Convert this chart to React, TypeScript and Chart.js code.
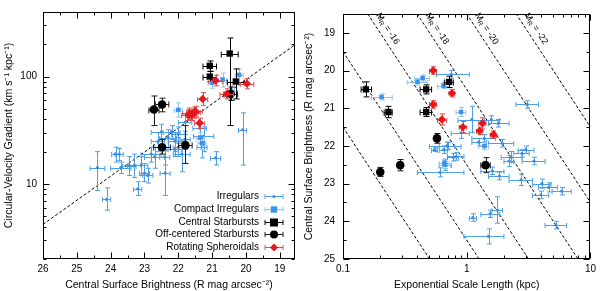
import React, { useEffect, useRef } from 'react';
import { Chart, registerables } from 'chart.js';
Chart.register(...registerables);

// ---------- LEFT PANEL DATA: [mag, magErr, velGrad, velLo, velHi] ----------
const irrLeft: number[][] = [
  [24.39, 0.22, 14.2, 8.7, 20], [24.12, 0.12, 7.2, 5.7, 9.2], [23.85, 0.12, 19, 16, 22],
  [23.75, 0.12, 19, 16.5, 21.5], [23.7, 0.3, 14.2, 12.5, 16], [23.3, 0.2, 15.0, 11.5, 19],
  [23.2, 0.12, 9.0, 7.8, 10.5], [23.1, 0.2, 15, 12, 18], [23.0, 0.15, 12.6, 10.5, 15.5],
  [22.9, 0.15, 12, 10.2, 14], [22.7, 0.3, 17.9, 14, 22], [22.6, 0.2, 24.9, 20, 30],
  [22.5, 0.3, 30.6, 26, 36], [22.39, 0.15, 12.6, 7.8, 20.3], [22.4, 0.15, 17.9, 15, 21],
  [22.3, 0.25, 27, 22, 32], [22.2, 0.25, 30.6, 26, 35], [22.1, 0.2, 25, 20, 30],
  [22.0, 0.2, 29, 24, 34], [22.1, 0.2, 21, 18, 25], [21.8, 0.2, 37.6, 29, 45],
  [21.9, 0.25, 19, 13, 25], [21.37, 0.2, 33, 28, 38], [21.3, 0.15, 22, 17.5, 27],
  [21.25, 0.3, 27.7, 20, 34], [20.9, 0.15, 17.5, 15, 20], [20.1, 0.12, 32, 15, 46],
  [21.8, 0.15, 26, 21, 31], [22.0, 0.15, 22, 18, 27], [23.45, 0.2, 14.8, 12, 18],
  [22.8, 0.3, 19, 16, 22],
];
const cmpLeft: number[][] = [
  [22.0, 0.12, 49, 42, 57], [20.69, 0.12, 94, 80, 108], [20.2, 0.12, 104, 88, 118],
  [21.0, 0.12, 88, 78, 98], [21.3, 0.12, 24, 21, 27], [21.35, 0.12, 27, 24, 30],
  [20.4, 0.15, 72, 62, 82],
];
const cenLeft: number[][] = [
  [20.48, 0.25, 164, 35, 229], [21.07, 0.2, 126, 112, 140], [21.07, 0.2, 100, 90, 112],
  [20.3, 0.25, 90, 62, 118],
];
const offLeft: number[][] = [
  [22.72, 0.15, 49.4, 35, 66], [22.48, 0.2, 55, 47, 63], [22.48, 0.25, 22, 19, 26],
  [21.79, 0.2, 23, 15.5, 35], [20.45, 0.2, 69, 60, 80],
];
const rotLeft: number[][] = [
  [20.9, 0.2, 92, 82, 103], [19.97, 0.2, 86, 77, 96], [21.28, 0.15, 62, 54, 71],
  [20.57, 0.2, 69, 62, 77], [21.67, 0.2, 45.5, 40, 51], [21.55, 0.2, 46.5, 41, 52],
  [21.49, 0.2, 47.5, 42, 53], [21.7, 0.2, 43.7, 39, 49], [21.37, 0.15, 37, 33, 41],
  [21.6, 0.15, 44, 39, 49],
];
const fitLine = [{ x: 26, y: 4.2 }, { x: 18.55, y: 198 }];

// ---------- RIGHT PANEL DATA: [h, hLo, hHi, mu0, muErr] ----------
const irrRight: number[][] = [
  [0.75, 0.57, 1.05, 20.1, 0.1], [3.08, 2.5, 3.8, 20.9, 0.1], [1.1, 0.85, 1.4, 21.3, 0.35],
  [1.58, 1.35, 1.85, 21.3, 0.1], [1.8, 1.5, 2.2, 21.4, 0.1], [0.9, 0.75, 1.05, 21.65, 0.15],
  [0.69, 0.5, 0.9, 22.0, 0.1], [0.82, 0.7, 0.95, 22.28, 0.1], [0.67, 0.6, 0.75, 22.5, 0.15],
  [0.65, 0.6, 0.7, 22.1, 0.1], [0.61, 0.4, 0.95, 22.7, 0.12], [1.39, 1.1, 1.7, 21.8, 0.1],
  [1.94, 1.5, 2.4, 21.93, 0.1], [2.29, 1.9, 2.8, 22.3, 0.15], [2.2, 2.0, 2.4, 22.4, 0.15],
  [2.8, 2.4, 3.2, 22.2, 0.1], [3.0, 2.6, 3.5, 22.1, 0.1], [3.5, 2.8, 4.3, 22.4, 0.1],
  [1.61, 1.3, 2.0, 22.66, 0.1], [1.84, 1.5, 2.2, 22.8, 0.1], [2.75, 2.2, 3.4, 22.9, 0.15],
  [4.05, 3.4, 4.8, 23.0, 0.12], [4.6, 3.8, 5.4, 23.1, 0.12], [5.85, 4.9, 7.0, 23.2, 0.1],
  [3.98, 3.4, 4.6, 23.3, 0.1], [1.77, 1.6, 1.95, 23.7, 0.35], [1.55, 1.3, 1.85, 23.8, 0.1],
  [1.12, 1.05, 1.2, 23.9, 0.1], [1.5, 0.95, 2.0, 24.4, 0.2], [5.25, 4.3, 6.4, 24.1, 0.1],
  [0.78, 0.7, 0.86, 22.3, 0.1], [1.25, 1.1, 1.45, 21.9, 0.1], [0.55, 0.52, 0.58, 22.1, 0.05],
  [0.7, 0.6, 0.8, 22.0, 0.1],
];
const cmpRight: number[][] = [
  [0.205, 0.17, 0.25, 20.7, 0.08], [0.4, 0.33, 0.48, 20.3, 0.08], [0.44, 0.38, 0.5, 20.2, 0.08],
  [0.65, 0.58, 0.72, 20.4, 0.08], [0.9, 0.82, 0.98, 21.1, 0.12], [1.39, 1.25, 1.5, 22.0, 0.1],
  [0.67, 0.6, 0.74, 22.5, 0.1], [0.66, 0.6, 0.72, 22.45, 0.1],
];
const cenRight: number[][] = [
  [0.153, 0.14, 0.17, 20.5, 0.2], [0.233, 0.215, 0.25, 21.1, 0.15], [0.47, 0.42, 0.52, 20.5, 0.12],
  [0.47, 0.42, 0.52, 21.1, 0.12], [0.72, 0.66, 0.78, 20.3, 0.15],
];
const offRight: number[][] = [
  [0.575, 0.56, 0.59, 21.8, 0.13], [0.2, 0.19, 0.21, 22.69, 0.12], [0.29, 0.28, 0.3, 22.51, 0.15],
  [1.42, 1.3, 1.55, 22.51, 0.2],
];
const rotRight: number[][] = [
  [0.535, 0.5, 0.57, 20.0, 0.1], [0.76, 0.72, 0.8, 20.6, 0.1], [0.535, 0.5, 0.57, 20.9, 0.1],
  [0.63, 0.58, 0.69, 21.3, 0.15], [0.93, 0.87, 1.0, 21.5, 0.15], [1.34, 1.25, 1.43, 21.4, 0.15],
  [1.27, 1.2, 1.35, 21.6, 0.1], [1.64, 1.55, 1.74, 21.7, 0.1],
];
const absMags = [-12, -14, -16, -18, -20, -22];
const labeledMags = [-16, -18, -20, -22];

// ---------- TICKS ----------
const leftXMajor = [19, 20, 21, 22, 23, 24, 25, 26];
const leftXMinor = [19.5, 20.5, 21.5, 22.5, 23.5, 24.5, 25.5];
const leftYMajor = [10, 100];
const leftYMinor = [2, 3, 4, 5, 6, 7, 8, 9, 20, 30, 40, 50, 60, 70, 80, 90, 200, 300];
const rightXMajor = [0.1, 1, 10];
const rightXMinor = [0.2, 0.3, 0.4, 0.5, 0.6, 0.7, 0.8, 0.9, 2, 3, 4, 5, 6, 7, 8, 9];
const rightYMajor = [19, 20, 21, 22, 23, 24, 25];
const rightYMinor = [19.5, 20.5, 21.5, 22.5, 23.5, 24.5];

const FONT = '"Liberation Sans", Arial, Helvetica, sans-serif';

const C = {
  irr: '#3b8fe0', irrErr: '#4d9fe8',
  cmp: '#3a92ec', cmpErr: '#8fc4f2',
  cen: '#000000', cenErr: '#000000',
  off: '#000000', offErr: '#1a1a1a',
  rot: '#e8161b', rotErr: '#e84a4a',
};

const toLeft = (arr: number[][]) =>
  arr.map(([m, me, v, lo, hi]) => ({ x: m, y: v, xlo: m - me, xhi: m + me, ylo: lo, yhi: hi }));
const toRight = (arr: number[][]) =>
  arr.map(([h, hl, hh, mu, e]) => ({ x: h, y: mu, xlo: hl, xhi: hh, ylo: mu - e, yhi: mu + e }));

function drawMarker(ctx: CanvasRenderingContext2D, style: string, x: number, y: number, r: number, color: string) {
  ctx.fillStyle = color;
  ctx.beginPath();
  if (style === 'circle') {
    ctx.arc(x, y, r, 0, Math.PI * 2);
  } else if (style === 'rect') {
    ctx.rect(x - r, y - r, 2 * r, 2 * r);
  } else {
    ctx.moveTo(x, y - r * 1.2); ctx.lineTo(x + r * 1.2, y); ctx.lineTo(x, y + r * 1.2); ctx.lineTo(x - r * 1.2, y); ctx.closePath();
  }
  ctx.fill();
}

const errPlugin = {
  id: 'errbars',
  beforeDatasetDraw(chart: any, args: any) {
    const ds = chart.data.datasets[args.index];
    if (!ds.errColor) return;
    const { ctx, chartArea: a } = chart;
    const xs = chart.scales.x, ys = chart.scales.y;
    ctx.save();
    ctx.beginPath(); ctx.rect(a.left, a.top, a.right - a.left, a.bottom - a.top); ctx.clip();
    ctx.strokeStyle = ds.errColor; ctx.lineWidth = 1;
    const c = ds.cap;
    ctx.beginPath();
    ds.data.forEach((p: any) => {
      const px = Math.round(xs.getPixelForValue(p.x)) + 0.5, py = Math.round(ys.getPixelForValue(p.y)) + 0.5;
      const x1 = xs.getPixelForValue(p.xlo), x2 = xs.getPixelForValue(p.xhi);
      const y1 = ys.getPixelForValue(p.ylo), y2 = ys.getPixelForValue(p.yhi);
      ctx.moveTo(x1, py); ctx.lineTo(x2, py);
      ctx.moveTo(x1, py - c); ctx.lineTo(x1, py + c);
      ctx.moveTo(x2, py - c); ctx.lineTo(x2, py + c);
      ctx.moveTo(px, y1); ctx.lineTo(px, y2);
      ctx.moveTo(px - c, y1); ctx.lineTo(px + c, y1);
      ctx.moveTo(px - c, y2); ctx.lineTo(px + c, y2);
    });
    ctx.stroke();
    ctx.restore();
  },
};

const framePlugin = (xMaj: number[], xMin: number[], yMaj: number[], yMin: number[]) => ({
  id: 'frame',
  afterDatasetsDraw(chart: any) {
    const { ctx, chartArea: a } = chart;
    const xs = chart.scales.x, ys = chart.scales.y;
    ctx.save();
    ctx.strokeStyle = '#000'; ctx.lineWidth = 1;
    const L = Math.round(a.left) + 0.5, R = Math.round(a.right) - 0.5, T = Math.round(a.top) + 0.5, B = Math.round(a.bottom) - 0.5;
    ctx.strokeRect(L, T, R - L, B - T);
    ctx.beginPath();
    const tx = (vals: number[], len: number) => vals.forEach(v => {
      const p = Math.round(xs.getPixelForValue(v)) + 0.5;
      ctx.moveTo(p, B); ctx.lineTo(p, B - len); ctx.moveTo(p, T); ctx.lineTo(p, T + len);
    });
    const ty = (vals: number[], len: number) => vals.forEach(v => {
      const p = Math.round(ys.getPixelForValue(v)) + 0.5;
      ctx.moveTo(L, p); ctx.lineTo(L + len, p); ctx.moveTo(R, p); ctx.lineTo(R - len, p);
    });
    tx(xMaj, 6); tx(xMin, 3); ty(yMaj, 6); ty(yMin, 3);
    ctx.stroke();
    ctx.restore();
  },
});

const legendItems = [
  { label: 'Irregulars', style: 'circle', r: 1.6, color: C.irr, err: C.irrErr },
  { label: 'Compact Irregulars', style: 'rect', r: 3.2, color: C.cmp, err: C.cmpErr },
  { label: 'Central Starbursts', style: 'rect', r: 4, color: C.cen, err: C.cenErr },
  { label: 'Off-centered Starbursts', style: 'circle', r: 4, color: C.off, err: C.offErr },
  { label: 'Rotating Spheroidals', style: 'diamond', r: 3.3, color: C.rot, err: C.rotErr },
];

const legendPlugin = {
  id: 'customLegend',
  afterDatasetsDraw(chart: any) {
    const { ctx, chartArea: a } = chart;
    ctx.save();
    ctx.font = `10px ${FONT}`;
    ctx.textAlign = 'right'; ctx.textBaseline = 'middle';
    const n = legendItems.length;
    legendItems.forEach((it, i) => {
      const yy = Math.round(a.bottom - 11.7 - (n - 1 - i) * 12.9) + 0.5;
      ctx.fillStyle = '#000';
      ctx.fillText(it.label, a.right - 36, yy);
      const cx = a.right - 21;
      ctx.strokeStyle = it.err; ctx.lineWidth = 1;
      ctx.beginPath();
      ctx.moveTo(cx - 9, yy); ctx.lineTo(cx + 9, yy);
      ctx.moveTo(cx - 9, yy - 2.5); ctx.lineTo(cx - 9, yy + 2.5);
      ctx.moveTo(cx + 9, yy - 2.5); ctx.lineTo(cx + 9, yy + 2.5);
      ctx.stroke();
      drawMarker(ctx, it.style, cx, yy, it.r, it.color);
    });
    ctx.restore();
  },
};

const magLabelPlugin = {
  id: 'magLabels',
  afterDatasetsDraw(chart: any) {
    const { ctx } = chart;
    const xs = chart.scales.x, ys = chart.scales.y;
    ctx.save();
    ctx.fillStyle = '#000';
    labeledMags.forEach(M => {
      const mu0 = 18.62;
      const h0 = Math.pow(10, (mu0 - (M + 38.5)) / 5);
      const h1 = h0 * Math.pow(10, 0.2);
      const x0 = xs.getPixelForValue(h0), y0 = ys.getPixelForValue(mu0);
      const x1 = xs.getPixelForValue(h1), y1 = ys.getPixelForValue(mu0 + 1);
      const ang = Math.atan2(y1 - y0, x1 - x0);
      const nx = Math.sin(ang), ny = -Math.cos(ang);
      ctx.save();
      ctx.translate(x0 + nx * 6, y0 + ny * 6);
      ctx.rotate(ang);
      ctx.textBaseline = 'alphabetic'; ctx.textAlign = 'left';
      ctx.font = `9px ${FONT}`;
      ctx.fillText('M', 0, 0);
      let w = ctx.measureText('M').width;
      ctx.font = `6.5px ${FONT}`;
      ctx.fillText('R', w, 2);
      w += ctx.measureText('R').width;
      ctx.font = `9px ${FONT}`;
      ctx.fillText(` = ${M}`, w, 0);
      ctx.restore();
    });
    ctx.restore();
  },
};

const scatterSet = (label: string, data: any[], style: string, r: number, color: string, err: string, cap: number, order: number) => ({
  label, data, pointStyle: style, pointRadius: r, backgroundColor: color, borderColor: color, borderWidth: 0,
  errColor: err, cap, order, showLine: false,
});

const axisCommon = (padding: number) => ({
  grid: { display: false, drawTicks: false },
  border: { display: false },
  ticks: { padding, color: '#000', font: { size: 10, family: FONT }, maxRotation: 0, autoSkip: false, callback: (v: any) => String(v) },
});

function makeLeft(canvas: HTMLCanvasElement) {
  return new Chart(canvas, {
    type: 'scatter',
    data: {
      datasets: [
        { type: 'line', data: fitLine, showLine: true, borderColor: '#000', borderWidth: 1, borderDash: [3, 2], pointRadius: 0, order: 10, fill: false } as any,
        scatterSet('Irregulars', toLeft(irrLeft), 'circle', 1.6, C.irr, C.irrErr, 2.5, 5),
        scatterSet('Compact Irregulars', toLeft(cmpLeft), 'rect', 3.2, C.cmp, C.cmpErr, 2.5, 4),
        scatterSet('Central Starbursts', toLeft(cenLeft), 'rect', 4.5, C.cen, C.cenErr, 3, 3),
        scatterSet('Off-centered Starbursts', toLeft(offLeft), 'circle', 4.3, C.off, C.offErr, 3, 2),
        scatterSet('Rotating Spheroidals', toLeft(rotLeft), 'rectRot', 4.2, C.rot, C.rotErr, 2.5, 1),
      ] as any,
    },
    options: {
      animation: false, responsive: false, events: [],
      layout: { padding: { top: 3, right: 5, left: 0, bottom: 0 } },
      plugins: { legend: { display: false }, tooltip: { enabled: false } },
      scales: {
        x: {
          type: 'linear', reverse: true, min: 18.55, max: 26,
          afterBuildTicks: (s: any) => { s.ticks = leftXMajor.map(v => ({ value: v })); },
          afterFit: (s: any) => { s.height = 32; },
          ...axisCommon(4),
          title: { display: true, text: 'Central Surface Brightness (R mag arcsec⁻²)', color: '#000', padding: { top: 0, bottom: 0 }, font: { size: 10.5, family: FONT } },
        },
        y: {
          type: 'logarithmic', min: 2, max: 400,
          afterBuildTicks: (s: any) => { s.ticks = leftYMajor.map(v => ({ value: v })); },
          afterFit: (s: any) => { s.width = 43; },
          ...axisCommon(6),
          title: { display: true, text: 'Circular-Velocity Gradient (km s⁻¹ kpc⁻¹)', color: '#000', padding: { top: 3, bottom: 0 }, font: { size: 10.5, family: FONT } },
        },
      } as any,
    },
    plugins: [errPlugin, framePlugin(leftXMajor, leftXMinor, leftYMajor, leftYMinor), legendPlugin],
  } as any);
}

function makeRight(canvas: HTMLCanvasElement) {
  const lines = absMags.map(M => ({
    type: 'line', data: [{ x: 0.1, y: M + 33.5 }, { x: 10, y: M + 43.5 }], showLine: true,
    borderColor: '#000', borderWidth: 1, borderDash: [3, 2], pointRadius: 0, order: 10, fill: false,
  }));
  return new Chart(canvas, {
    type: 'scatter',
    data: {
      datasets: [
        ...lines,
        scatterSet('Irregulars', toRight(irrRight), 'circle', 1.6, C.irr, C.irrErr, 2.5, 5),
        scatterSet('Compact Irregulars', toRight(cmpRight), 'rect', 3.2, C.cmp, C.cmpErr, 2.5, 4),
        scatterSet('Central Starbursts', toRight(cenRight), 'rect', 4.5, C.cen, C.cenErr, 3, 3),
        scatterSet('Off-centered Starbursts', toRight(offRight), 'circle', 4.3, C.off, C.offErr, 3, 2),
        scatterSet('Rotating Spheroidals', toRight(rotRight), 'rectRot', 4.2, C.rot, C.rotErr, 2.5, 1),
      ] as any,
    },
    options: {
      animation: false, responsive: false, events: [],
      layout: { padding: { top: 3, right: 7, left: 0, bottom: 0 } },
      plugins: { legend: { display: false }, tooltip: { enabled: false } },
      scales: {
        x: {
          type: 'logarithmic', min: 0.1, max: 10,
          afterBuildTicks: (s: any) => { s.ticks = rightXMajor.map(v => ({ value: v })); },
          afterFit: (s: any) => { s.height = 32; },
          ...axisCommon(4),
          title: { display: true, text: 'Exponential Scale Length (kpc)', color: '#000', padding: { top: 0, bottom: 0 }, font: { size: 10.5, family: FONT } },
        },
        y: {
          type: 'linear', reverse: true, min: 18.5, max: 25,
          afterBuildTicks: (s: any) => { s.ticks = rightYMajor.map(v => ({ value: v })); },
          afterFit: (s: any) => { s.width = 43; },
          ...axisCommon(8),
          title: { display: true, text: 'Central Surface Brightness (R mag arcsec⁻²)', color: '#000', padding: { top: 3, bottom: 0 }, font: { size: 10.5, family: FONT } },
        },
      } as any,
    },
    plugins: [errPlugin, framePlugin(rightXMajor, rightXMinor, rightYMajor, rightYMinor), magLabelPlugin],
  } as any);
}

function ChartCanvas({ make, left }: { make: (c: HTMLCanvasElement) => Chart; left: number }) {
  const ref = useRef<HTMLCanvasElement>(null);
  useEffect(() => {
    const ch = make(ref.current as HTMLCanvasElement);
    return () => ch.destroy();
  }, []);
  return (
    <canvas ref={ref} width={300} height={291}
      style={{ position: 'absolute', left, top: 0, width: 300, height: 291, display: 'block' }} />
  );
}

export default function App() {
  return (
    <div style={{ position: 'absolute', left: 0, top: 0, width: 600, height: 291, background: '#fff', overflow: 'hidden' }}>
      <ChartCanvas make={makeLeft} left={0} />
      <ChartCanvas make={makeRight} left={300} />
    </div>
  );
}
